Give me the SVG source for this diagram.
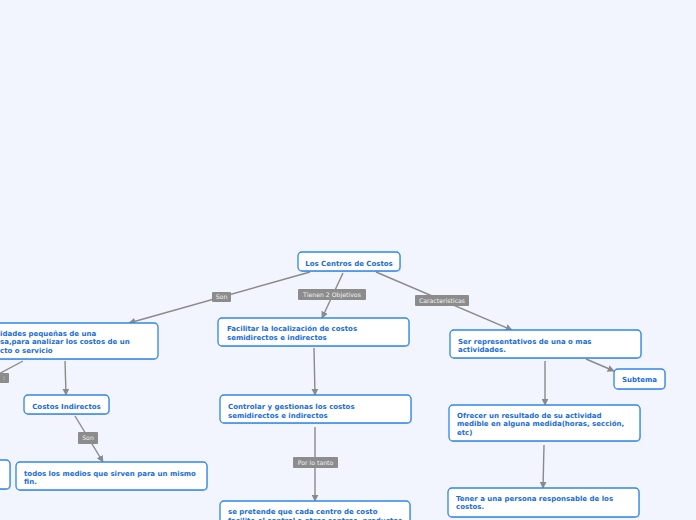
<svg xmlns="http://www.w3.org/2000/svg" width="696" height="520" viewBox="0 0 696 520">
<style>
.bg{fill:#f2f5fe}
.box{fill:#ffffff;stroke:#2f86e8;stroke-width:1.3}
.sh{fill:#7a8aa8;opacity:0.3}
.t{font-family:"DejaVu Sans",Verdana,sans-serif;font-weight:bold;font-size:7px;fill:#1a6dd6}
.c{stroke:#8a8a8a;stroke-width:1.4;fill:none}
.lb{fill:#8c8c8c}
.lt{font-family:"DejaVu Sans",Verdana,sans-serif;font-size:6.2px;fill:#f0f0f0;text-anchor:middle}
</style>
<defs>
<marker id="ah" viewBox="0 0 10 10" refX="9" refY="5" markerWidth="7" markerHeight="7" orient="auto" markerUnits="userSpaceOnUse">
<path d="M0,0 L10,5 L0,10 z" fill="#8a8a8a"/>
</marker>
</defs>
<rect class="bg" x="0" y="0" width="696" height="520"/>
<g id="connectors">
<line class="c" x1="310" y1="272" x2="129" y2="323" marker-end="url(#ah)"/>
<line class="c" x1="343" y1="273" x2="322" y2="318" marker-end="url(#ah)"/>
<line class="c" x1="376" y1="272" x2="512" y2="330" marker-end="url(#ah)"/>
<line class="c" x1="586" y1="359" x2="614" y2="371" marker-end="url(#ah)"/>
<line class="c" x1="545" y1="361" x2="545" y2="405" marker-end="url(#ah)"/>
<line class="c" x1="544" y1="445" x2="543" y2="488" marker-end="url(#ah)"/>
<line class="c" x1="314" y1="348" x2="315" y2="395" marker-end="url(#ah)"/>
<line class="c" x1="315" y1="427" x2="315" y2="501" marker-end="url(#ah)"/>
<line class="c" x1="65" y1="361" x2="66" y2="395" marker-end="url(#ah)"/>
<line class="c" x1="23" y1="361" x2="-5" y2="376"/>
<line class="c" x1="75" y1="416" x2="103" y2="462" marker-end="url(#ah)"/>
<rect class="lb" x="212" y="292" width="19" height="10" rx="1"/>
<text class="lt" x="221.5" y="299.3">Son</text>
<rect class="lb" x="298" y="289" width="68" height="11" rx="1"/>
<text class="lt" x="332" y="296.8">Tienen 2 Objetivos</text>
<rect class="lb" x="415" y="295" width="54" height="11" rx="1"/>
<text class="lt" x="442" y="302.8">Caracteristicas</text>
<rect class="lb" x="293" y="457" width="45" height="11" rx="1"/>
<text class="lt" x="315.5" y="464.8">Por lo tanto</text>
<rect class="lb" x="78" y="432" width="20" height="12" rx="1"/>
<text class="lt" x="88" y="440.3">Son</text>
<rect class="lb" x="-30" y="373" width="39" height="10" rx="1"/>
<text class="lt" x="4" y="380.3">:</text>
</g>
<g id="n-root">
<rect class="sh" x="299" y="253" width="102" height="19" rx="4"/>
<rect class="box" x="298" y="252" width="102" height="19" rx="4"/>
<text class="t" x="349" y="265.5" text-anchor="middle">Los Centros de Costos</text>
</g>
<g id="n-unidades">
<rect class="sh" x="-69" y="324" width="227" height="36" rx="4"/>
<rect class="box" x="-70" y="323" width="228" height="36" rx="4"/>
<text class="t" x="0" y="335.5">idades pequeñas de una</text>
<text class="t" x="0" y="344">sa,para analizar los costos de un</text>
<text class="t" x="0" y="352.5">cto o servicio</text>
</g>
<g id="n-facilitar">
<rect class="sh" x="219" y="319" width="191" height="28" rx="4"/>
<rect class="box" x="218" y="318" width="191" height="28" rx="4"/>
<text class="t" x="227" y="330.5">Facilitar la localización de costos</text>
<text class="t" x="227" y="339.5">semidirectos e indirectos</text>
</g>
<g id="n-ser">
<rect class="sh" x="451" y="331" width="191" height="28" rx="4"/>
<rect class="box" x="450" y="330" width="191" height="28" rx="4"/>
<text class="t" x="458" y="343.5">Ser representativos de una o mas</text>
<text class="t" x="458" y="351.5">actividades.</text>
</g>
<g id="n-subtema">
<rect class="sh" x="615" y="370" width="51" height="20" rx="4"/>
<rect class="box" x="614" y="369" width="51" height="20" rx="4"/>
<text class="t" x="639.5" y="382" text-anchor="middle">Subtema</text>
</g>
<g id="n-costosind">
<rect class="sh" x="25" y="396" width="85" height="19" rx="4"/>
<rect class="box" x="24" y="395" width="85" height="19" rx="4"/>
<text class="t" x="66.5" y="408.5" text-anchor="middle">Costos Indirectos</text>
</g>
<g id="n-controlar">
<rect class="sh" x="221" y="396" width="191" height="28" rx="4"/>
<rect class="box" x="220" y="395" width="191" height="28" rx="4"/>
<text class="t" x="228" y="408.5">Controlar y gestionas los costos</text>
<text class="t" x="228" y="417.5">semidirectos e indirectos</text>
</g>
<g id="n-ofrecer">
<rect class="sh" x="450" y="406" width="191" height="36" rx="4"/>
<rect class="box" x="449" y="405" width="191" height="36" rx="4"/>
<text class="t" x="457" y="417.5">Ofrecer un resultado de su actividad</text>
<text class="t" x="457" y="426">medible en alguna medida(horas, sección,</text>
<text class="t" x="457" y="434.5">etc)</text>
</g>
<g id="n-todos">
<rect class="sh" x="17" y="463" width="191" height="28" rx="4"/>
<rect class="box" x="16" y="462" width="191" height="28" rx="4"/>
<text class="t" x="24" y="475.5">todos los medios que sirven para un mismo</text>
<text class="t" x="24" y="483.5">fin.</text>
</g>
<g id="n-left">
<rect class="sh" x="-59" y="461" width="70" height="29" rx="4"/>
<rect class="box" x="-60" y="460" width="70" height="29" rx="4"/>
</g>
<g id="n-sepretende">
<rect class="sh" x="221" y="502" width="190" height="30" rx="4"/>
<rect class="box" x="220" y="501" width="190" height="30" rx="4"/>
<text class="t" x="228" y="514">se pretende que cada centro de costo</text>
<text class="t" x="228" y="522.5">facilite el control a otros centros, productos</text>
</g>
<g id="n-tener">
<rect class="sh" x="449" y="489" width="191" height="29" rx="4"/>
<rect class="box" x="448" y="488" width="191" height="29" rx="4"/>
<text class="t" x="456" y="500.5">Tener a una persona responsable de los</text>
<text class="t" x="456" y="509">costos.</text>
</g>
</svg>
